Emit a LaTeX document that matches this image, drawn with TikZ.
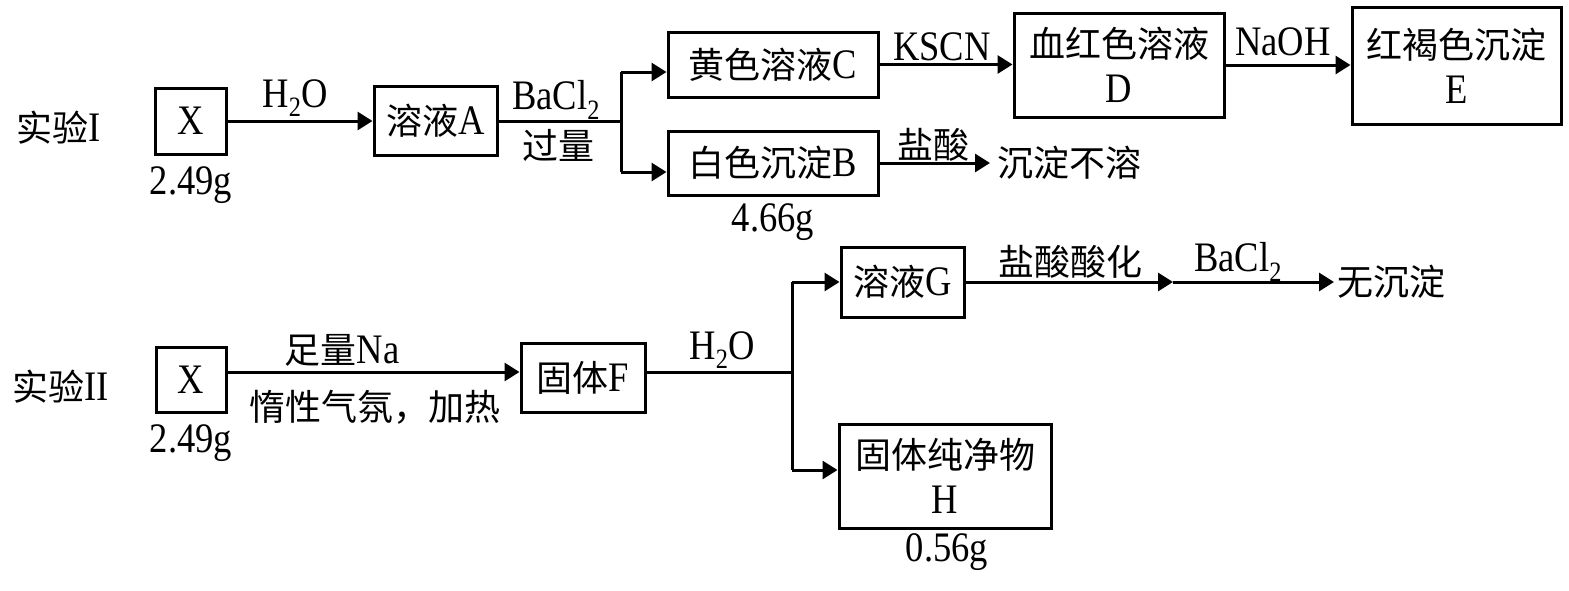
\documentclass[tikz,border=0pt]{standalone}
\usepackage{fontspec}
\setmainfont[FakeStretch=0.87]{Liberation Serif}
\newfontfamily\cjk[Scale=0.857]{Noto Sans CJK SC}
\usetikzlibrary{arrows.meta}
\newcommand{\chemsub}[1]{\raisebox{-0.22em}{\fontsize{28}{28}\selectfont #1}}
\newcommand{\zh}[1]{{\cjk #1}}
\begin{document}
\begin{tikzpicture}[x=1pt,y=-1pt,
  every node/.style={font=\fontsize{42}{45}\selectfont, inner sep=0pt},
  box/.style={draw, line width=3pt, align=center},
  ln/.style={line width=3pt},
  arr/.style={line width=3pt, -{Triangle[length=15pt,width=18pt]}}]
\useasboundingbox (0,0) rectangle (1569,590);

% ---------- Experiment I ----------
\node (L1) at (59,128) {\zh{实验}I};
\node[box, minimum width=71pt, minimum height=66pt] (X1) at (190.5,121) {X};
\node (m1) at (191,185) {2.49g};
\node[box, minimum width=123pt, minimum height=69pt] (A) at (435.5,121) {\zh{溶液}A};
\node[box, minimum width=210pt, minimum height=65pt] (C) at (773,64.5) {\zh{黄色溶液}C};
\node[box, minimum width=210pt, minimum height=64pt] (B) at (773,163) {\zh{白色沉淀}B};
\node (m2) at (773,222) {4.66g};
\node[box, minimum width=210pt, minimum height=104pt] (D) at (1119,65) {\zh{血红色溶液}\\D};
\node[box, minimum width=209pt, minimum height=117pt] (E) at (1456.5,65.5) {\zh{红褐色沉淀}\\E};
\node[anchor=west, inner xsep=7pt] (P1) at (990,163) {\zh{沉淀不溶}};

\node (t1) at (295,98) {H\chemsub{2}O};
\node (t2) at (556,100) {BaCl\chemsub{2}};
\node (t3) at (558,145) {\zh{过量}};
\node (t4) at (942,47) {KSCN};
\node (t5) at (1283,42) {NaOH};
\node (t6) at (933,145) {\zh{盐酸}};

\coordinate (j1) at (621,121);
\coordinate (jt) at (621,72);
\coordinate (jb) at (621,172);
\draw[arr] (X1.east) -- (X1.east -| A.west);
\draw[ln] (A.east) -- (j1);
\draw[ln] (jt) -- (jb);
\draw[arr] (jt) -- (jt -| C.west);
\draw[arr] (jb) -- (jb -| B.west);
\draw[arr] (C.east) -- (C.east -| D.west);
\draw[arr] (D.east) -- (D.east -| E.west);
\draw[arr] (B.east) -- (P1.west);

% ---------- Experiment II ----------
\node (L2) at (61,387) {\zh{实验}II};
\node[box, minimum width=70pt, minimum height=65pt] (X2) at (191,379.5) {X};
\node (m3) at (191,443) {2.49g};
\node[box, minimum width=124pt, minimum height=69pt] (F) at (583,377.5) {\zh{固体}F};
\node[box, minimum width=123pt, minimum height=70pt] (G) at (902.5,282) {\zh{溶液}G};
\node[box, minimum width=212pt, minimum height=104pt] (H) at (945,476) {\zh{固体纯净物}\\H};
\node (m4) at (947,552) {0.56g};
\node[anchor=west, inner xsep=3pt] (N) at (1334,282) {\zh{无沉淀}};

\node (u1) at (342,350) {\zh{足量}Na};
\node (u2) at (375,407) {\zh{惰性气氛，加热}};
\node (u3) at (722,350) {H\chemsub{2}O};
\node (u4) at (1070,262) {\zh{盐酸酸化}};
\node (u5) at (1238,262) {BaCl\chemsub{2}};

\coordinate (r2) at (0,372);
\coordinate (j2) at (792,372);
\coordinate (gt) at (792,282);
\coordinate (gb) at (792,470);
\coordinate (k1) at (1173,282);
\draw[arr] (X2.east |- r2) -- (F.west |- r2);
\draw[ln] (F.east |- r2) -- (j2);
\draw[ln] (gt) -- (gb);
\draw[arr] (gt) -- (gt -| G.west);
\draw[arr] (gb) -- (gb -| H.west);
\draw[arr] (G.east) -- (k1);
\draw[arr] (k1) -- (N.west);
\end{tikzpicture}
\end{document}
